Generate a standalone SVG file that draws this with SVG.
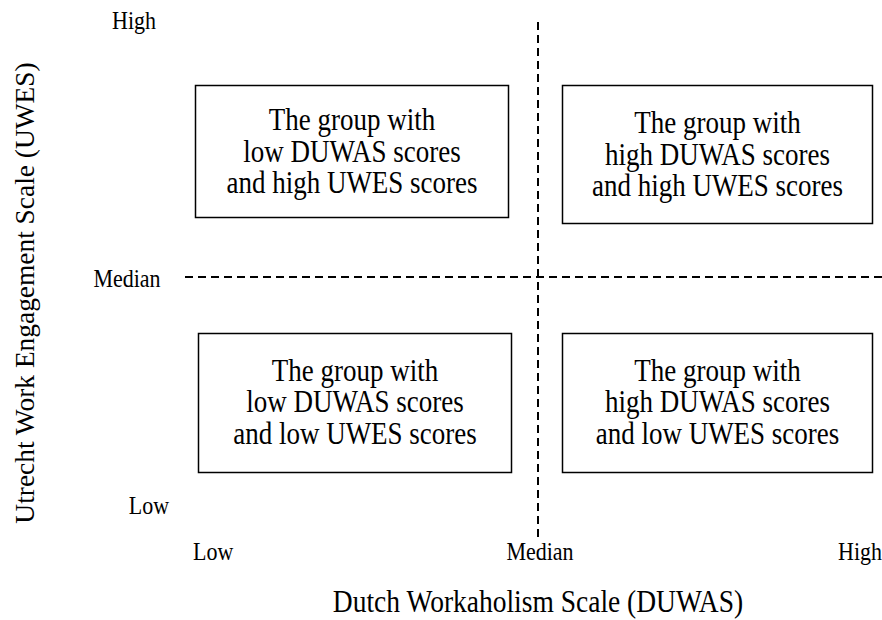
<svg xmlns="http://www.w3.org/2000/svg" width="882" height="620" viewBox="0 0 882 620">
<style>
text{font-family:"Liberation Serif","Times New Roman",serif;fill:#000}
.box rect{fill:#fff;stroke:#000;stroke-width:1.5}
.box text{font-size:27px;text-anchor:middle}
.ax{font-size:22px}
.title{font-size:27.5px;text-anchor:middle}
.dash{stroke:#000;stroke-width:2;stroke-dasharray:8 5;fill:none}
</style>
<rect width="882" height="620" fill="#fff"/>
<g id="connectors">
<line class="dash" x1="538" y1="22" x2="538" y2="538"/>
<line class="dash" x1="185" y1="277" x2="882" y2="277"/>
</g>
<g id="box-tl" class="box">
<rect x="195.5" y="85.5" width="313" height="132"/>
<text transform="translate(352 130) scale(1 1.15)">The group with</text>
<text transform="translate(352 161.5) scale(1 1.15)">low DUWAS scores</text>
<text transform="translate(352 193) scale(1 1.15)">and high UWES scores</text>
</g>
<g id="box-tr" class="box">
<rect x="562.5" y="85.5" width="310" height="138"/>
<text transform="translate(717.5 133) scale(1 1.15)">The group with</text>
<text transform="translate(717.5 164.5) scale(1 1.15)">high DUWAS scores</text>
<text transform="translate(717.5 196) scale(1 1.15)">and high UWES scores</text>
</g>
<g id="box-bl" class="box">
<rect x="198.5" y="333.5" width="313" height="139"/>
<text transform="translate(355 380.5) scale(1 1.15)">The group with</text>
<text transform="translate(355 412) scale(1 1.15)">low DUWAS scores</text>
<text transform="translate(355 443.5) scale(1 1.15)">and low UWES scores</text>
</g>
<g id="box-br" class="box">
<rect x="562.5" y="333.5" width="310" height="139"/>
<text transform="translate(717.5 380.5) scale(1 1.15)">The group with</text>
<text transform="translate(717.5 412) scale(1 1.15)">high DUWAS scores</text>
<text transform="translate(717.5 443.5) scale(1 1.15)">and low UWES scores</text>
</g>
<g id="labels">
<text class="ax" transform="translate(134 29) scale(1 1.15)" text-anchor="middle">High</text>
<text class="ax" transform="translate(127 287) scale(1 1.15)" text-anchor="middle">Median</text>
<text class="ax" transform="translate(149 514) scale(1 1.15)" text-anchor="middle">Low</text>
<text class="ax" transform="translate(193 560) scale(1 1.15)">Low</text>
<text class="ax" transform="translate(540 560) scale(1 1.15)" text-anchor="middle">Median</text>
<text class="ax" transform="translate(882 560) scale(1 1.15)" text-anchor="end">High</text>
<text class="title" transform="translate(538 612) scale(1 1.15)">Dutch Workaholism Scale (DUWAS)</text>
<text class="title" style="font-size:27.4px" transform="translate(34 293) rotate(-90)">Utrecht Work Engagement Scale (UWES)</text>
</g>
</svg>
